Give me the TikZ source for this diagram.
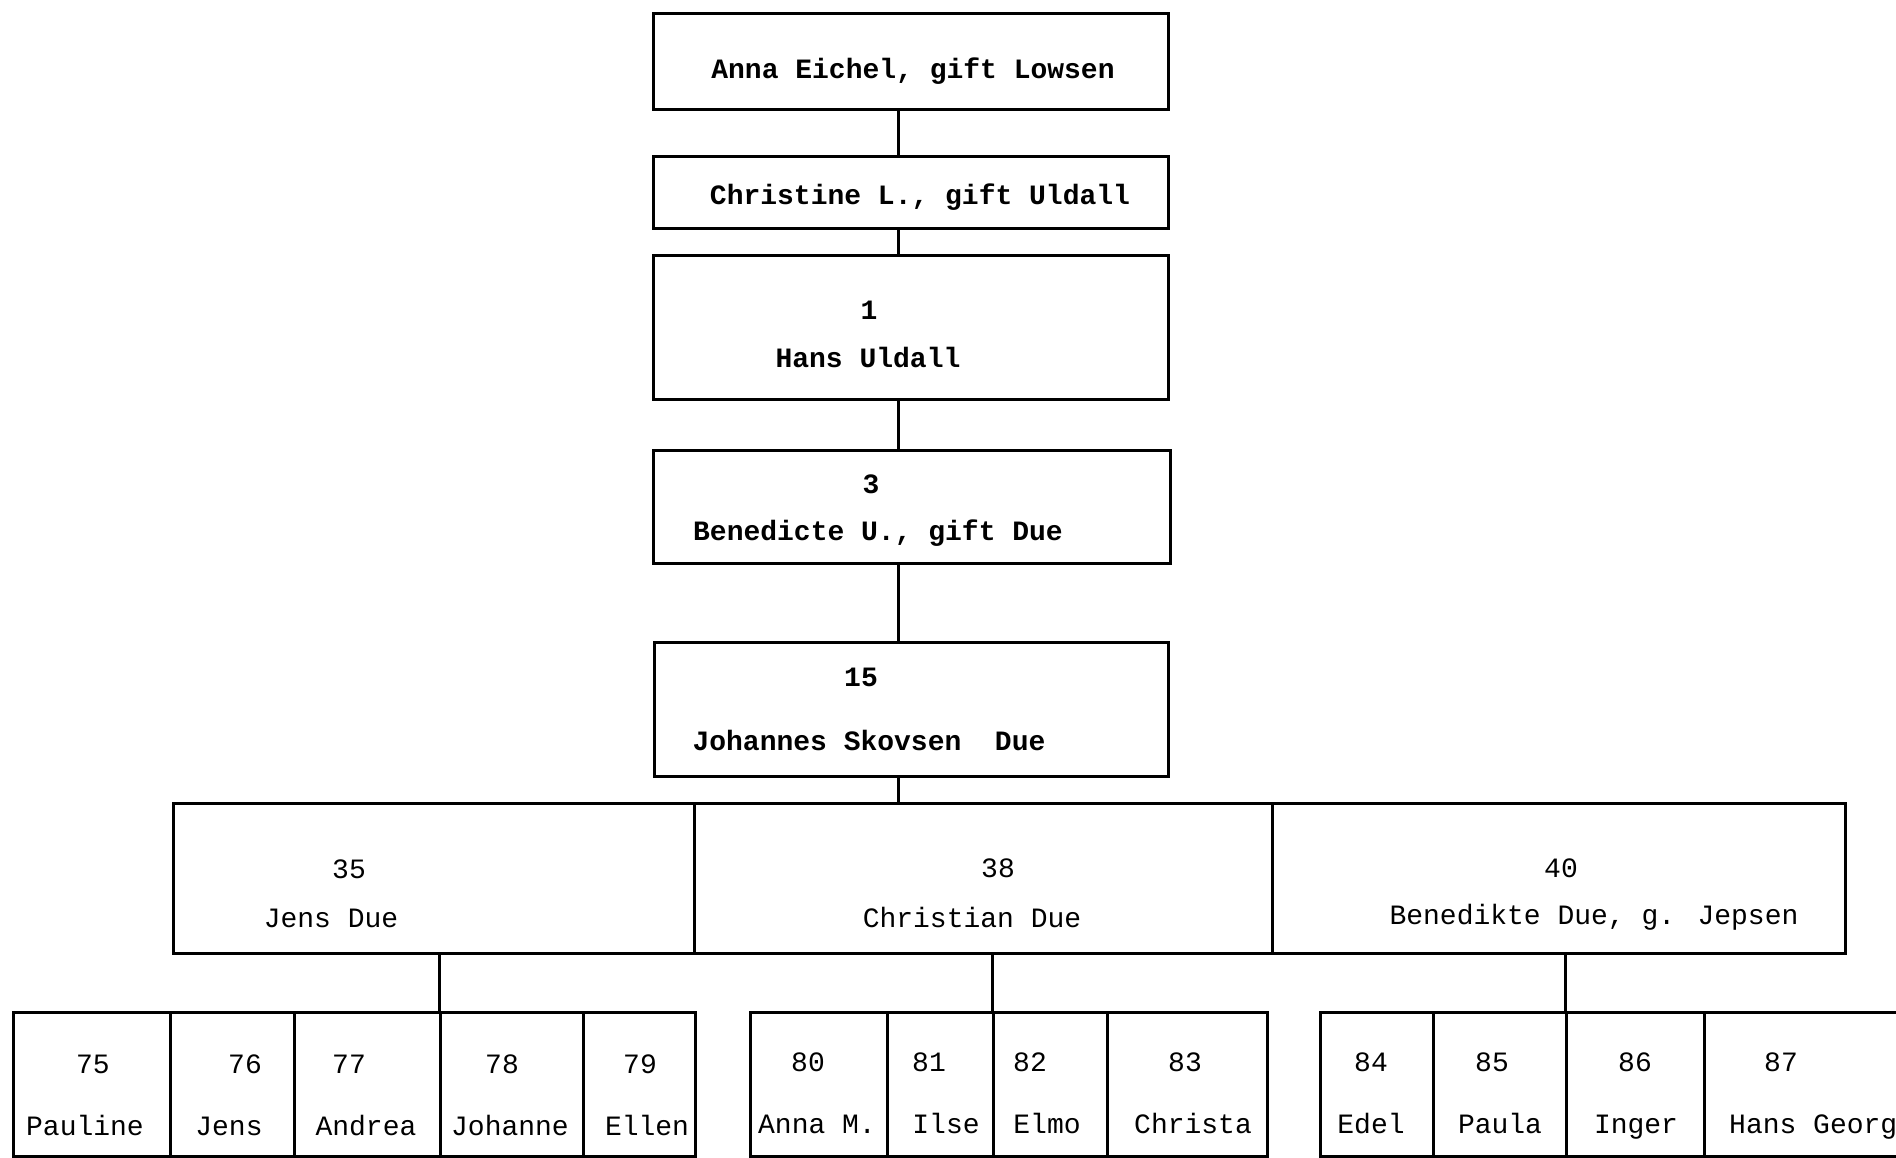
\documentclass[tikz,border=0pt]{standalone}
\usepackage{fontspec}
\newfontfamily\tw{Liberation Mono}
\begin{document}
\begin{tikzpicture}[x=1pt,y=-1pt,
  box/.style={draw, line width=3pt, rectangle, inner sep=0pt, anchor=north west},
  lab/.style={font=\tw\fontsize{28}{32}\selectfont, inner sep=0pt},
  nlab/.style={lab, anchor=base},
  blab/.style={font=\tw\bfseries\fontsize{28}{32}\selectfont, inner sep=0pt},
  conn/.style={line width=3pt}]
\useasboundingbox (0,0) rectangle (1896,1157);
\clip (0,0) rectangle (1896,1157);
% top chain
\node[box, minimum width=515pt, minimum height=96pt] (A) at (652,12) {};
\node[box, minimum width=515pt, minimum height=72pt] (B) at (652,155) {};
\node[box, minimum width=515pt, minimum height=144pt] (C) at (652,254) {};
\node[box, minimum width=517pt, minimum height=113pt] (D) at (652,449) {};
\node[box, minimum width=514pt, minimum height=134pt] (E) at (653,641) {};
% second row
\node[box, minimum width=521pt, minimum height=150pt] (p35) at (172,802) {};
\node[box, minimum width=578pt, minimum height=150pt] (p38) at (693,802) {};
\node[box, minimum width=573pt, minimum height=150pt] (p40) at (1271,802) {};
% third row
\node[box, minimum width=157pt, minimum height=144pt] (c75) at (12,1011) {};
\node[box, minimum width=124pt, minimum height=144pt] (c76) at (169,1011) {};
\node[box, minimum width=146pt, minimum height=144pt] (c77) at (293,1011) {};
\node[box, minimum width=143pt, minimum height=144pt] (c78) at (439,1011) {};
\node[box, minimum width=112pt, minimum height=144pt] (c79) at (582,1011) {};
\node[box, minimum width=137pt, minimum height=144pt] (c80) at (749,1011) {};
\node[box, minimum width=106pt, minimum height=144pt] (c81) at (886,1011) {};
\node[box, minimum width=114pt, minimum height=144pt] (c82) at (992,1011) {};
\node[box, minimum width=160pt, minimum height=144pt] (c83) at (1106,1011) {};
\node[box, minimum width=113pt, minimum height=144pt] (c84) at (1319,1011) {};
\node[box, minimum width=133pt, minimum height=144pt] (c85) at (1432,1011) {};
\node[box, minimum width=138pt, minimum height=144pt] (c86) at (1565,1011) {};
\node[box, minimum width=240pt, minimum height=144pt] (c87) at (1703,1011) {};
% connectors
\coordinate (trunk) at (898,0);
\draw[conn] (A.south -| trunk) -- (B.north -| trunk);
\draw[conn] (B.south -| trunk) -- (C.north -| trunk);
\draw[conn] (C.south -| trunk) -- (D.north -| trunk);
\draw[conn] (D.south -| trunk) -- (E.north -| trunk);
\draw[conn] (E.south -| trunk) -- (p38.north -| trunk);
\draw[conn] (p35.south -| c78.north west) -- (c78.north west);
\draw[conn] (p38.south -| c82.north west) -- (c82.north west);
\draw[conn] (p40.south -| c86.north west) -- (c86.north west);
% texts top
\node[blab] (tA) at (913,71) {Anna Eichel, gift Lowsen};
\node[blab] (tB) at (920,197) {Christine L., gift Uldall};
\node[blab] (nC) at (869,310) {1};
\node[blab] (tC) at (868,357) {Hans Uldall};
\node[blab] (nD) at (871,484) {3};
\node[blab] (tD) at (878,533) {Benedicte U., gift Due};
\node[blab] (nE) at (861,677) {15};
\node[blab] (tE) at (869,740) {Johannes Skovsen\ \ Due};
% texts row 2
\node[lab] (n35) at (349,869) {35};
\node[lab] (t35) at (331,918) {Jens Due};
\node[lab] (n38) at (998,868) {38};
\node[lab] (t38) at (972,917) {Christian Due};
\node[lab] (n40) at (1561,868) {40};
\node[lab] (t40) at (1594,917) {Benedikte Due, g. Jepsen};
% texts row 3
\node[nlab] (n75) at (93,1073) {75};   \node[nlab] (t75) at (85,1135) {Pauline};
\node[nlab] (n76) at (245,1073) {76};  \node[nlab] (t76) at (229,1135) {Jens};
\node[nlab] (n77) at (349,1073) {77};  \node[nlab] (t77) at (366,1135) {Andrea};
\node[nlab] (n78) at (502,1073) {78};  \node[nlab] (t78) at (510,1135) {Johanne};
\node[nlab] (n79) at (640,1073) {79};  \node[nlab] (t79) at (647,1135) {Ellen};
\node[nlab] (n80) at (808,1071) {80};  \node[nlab] (t80) at (817,1133) {Anna M.};
\node[nlab] (n81) at (929,1071) {81};  \node[nlab] (t81) at (946,1133) {Ilse};
\node[nlab] (n82) at (1030,1071) {82}; \node[nlab] (t82) at (1047,1133) {Elmo};
\node[nlab] (n83) at (1185,1071) {83}; \node[nlab] (t83) at (1193,1133) {Christa};
\node[nlab] (n84) at (1371,1071) {84}; \node[nlab] (t84) at (1371,1133) {Edel};
\node[nlab] (n85) at (1492,1071) {85}; \node[nlab] (t85) at (1500,1133) {Paula};
\node[nlab] (n86) at (1635,1071) {86}; \node[nlab] (t86) at (1636,1133) {Inger};
\node[nlab] (n87) at (1781,1071) {87}; \node[nlab, anchor=base west] (t87) at (1729,1133) {Hans Georg};
\end{tikzpicture}
\end{document}
